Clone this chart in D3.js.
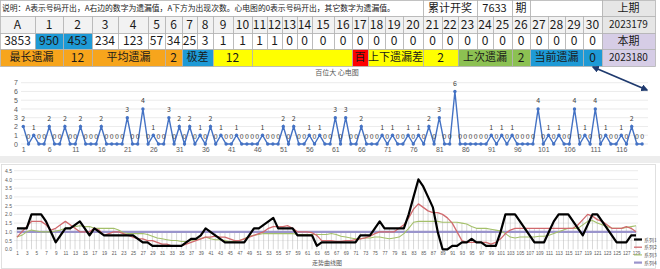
<!DOCTYPE html>
<html>
<head>
<meta charset="utf-8">
<style>
    body {
        margin: 0;
        background: #fff;
        font-family: "Noto Sans CJK SC", "Noto Sans", sans-serif;
    }
    svg { display: block; }
    .tick text { fill: #595959; }
</style>
</head>
<body>
<svg width="660" height="269"></svg>

<script src="https://d3js.org/d3.v7.min.js"></script>
<script>
    // ---- table data ----
    const descText = "说明：A表示号码开出，A右边的数字为遗漏值，A下方为出现次数。心电图的0表示号码开出，其它数字为遗漏值。"
    const totalLabel = "累计开奖"
    const totalDraws = 7633
    const prevLabel = "上期"
    const prevIssue = "2023179"
    const curLabel = "本期"
    const curIssue = "2023180"
    const numbers = ["A", "1", "2", "3", "4", "5", "6", "7", "8", "9", "10", "11", "12", "13", "14", "15",
        "16", "17", "18", "19", "20", "21", "22", "23", "24", "25", "26", "27", "28", "29", "30"]
    const counts = [3853, 950, 453, 234, 123, 57, 34, 25, 3, 1, 1, 1, 1, 0, 0, 0,
        0, 0, 0, 0, 0, 0, 0, 0, 0, 0, 0, 0, 0, 0, 0]
    const statLabels = ["最长遗漏", "平均遗漏", "极差", "上下遗漏差", "上次遗漏", "当前遗漏"]
    const statValues = [12, 2, 12, 2, 2, 0]
    const posLabel = "百"

    // ---- chart 1: 百位大 心电图 ----
    const ecgTitle = "百位大 心电图"
    const ecgValues = [2, 0, 1, 0, 0, 2, 0, 0, 2, 0, 0, 2, 0, 0, 0, 2, 0, 0, 0, 0,
        3, 0, 0, 4, 0, 1, 0, 0, 3, 0, 2, 0, 2, 0, 1, 0, 2, 0, 1, 0,
        0, 1, 0, 0, 0, 0, 1, 0, 0, 0, 2, 0, 2, 0, 0, 1, 0, 1, 0, 0,
        3, 0, 3, 0, 0, 2, 0, 0, 0, 1, 0, 1, 0, 0, 1, 0, 1, 0, 2, 0,
        3, 0, 0, 6, 0, 0, 0, 0, 0, 0, 1, 0, 1, 0, 1, 0, 0, 0, 0, 4,
        0, 1, 0, 1, 0, 0, 4, 0, 1, 0, 4, 0, 1, 0, 0, 1, 0, 2, 0, 0]

    // ---- chart 2: 走势曲线图 ----
    const trendTitle = "走势曲线图"
    const seriesNames = ["系列1", "系列2", "系列3", "系列4"]
    const series1 = [1.2, 1.2, 1.2, 2.0, 2.0, 2.0, 1.6, 1.0, 0.4, 0.8,
        1.2, 1.2, 1.4, 1.6, 1.2, 0.8, 1.2, 1.0, 0.8, 0.8,
        0.8, 0.8, 0.8, 0.8, 0.8, 0.6, 0.4, 0.4, 0.2, 0.2,
        0.2, 0.2, 0.2, 0.2, 0.2, 0.4, 0.6, 0.6, 0.8, 1.2,
        1.0, 0.8, 0.6, 0.4, 0.4, 0.4, 0.4, 0.4, 0.8, 1.2,
        1.2, 1.4, 1.6, 1.8, 1.2, 1.2, 1.2, 1.2, 0.8, 0.8,
        0.8, 0.8, 0.2, 0.4, 0.4, 0.4, 0.4, 0.4, 0.4, 0.4,
        0.4, 0.8, 0.8, 0.8, 1.2, 1.6, 1.2, 1.2, 1.2, 1.2,
        1.2, 2.0, 3.0, 4.0, 3.6, 3.0, 2.4, 1.0, 0, 0,
        0.2, 0.2, 0.4, 0.4, 0.6, 0.4, 0.4, 0.2, 0.2, 0.2,
        1.0, 2.0, 2.0, 2.0, 1.6, 1.2, 0.8, 0.4, 0.4, 0.4,
        1.0, 1.6, 2.0, 2.0, 2.0, 1.6, 1.2, 0.8, 1.4, 2.0,
        2.0, 1.6, 1.2, 0.8, 0.4, 0.4, 0.4, 0.8, 0.8]
    const series2 = [0.7, 1.0, 1.3, 1.6, 1.6, 1.6, 1.4, 1.1, 1.2, 1.4,
        1.6, 1.4, 1.2, 1.0, 1.0, 1.0, 1.2, 1.1, 0.8, 0.9,
        1.0, 1.0, 0.9, 0.8, 0.7, 0.6, 0.6, 0.5, 0.5, 0.4,
        0.3, 0.3, 0.2, 0.2, 0.2, 0.3, 0.4, 0.5, 0.6, 0.7,
        0.7, 0.75, 0.7, 0.7, 0.6, 0.5, 0.5, 0.6, 0.7, 0.8,
        0.9, 1.0, 1.2, 1.3, 1.3, 1.3, 1.35, 1.2, 1.0, 1.0,
        1.0, 0.95, 0.8, 0.5, 0.5, 0.5, 0.45, 0.45, 0.5, 0.5,
        0.55, 0.6, 0.65, 0.75, 0.9, 1.0, 1.0, 1.0, 1.0, 1.2,
        1.4, 1.8, 2.3, 2.6, 2.4, 2.2, 2.1, 2.1, 2.0, 1.8,
        1.5, 1.0, 0.5, 0.4, 0.4, 0.4, 0.4, 0.4, 0.3, 0.4,
        0.6, 0.9, 1.1, 1.2, 1.2, 1.2, 1.2, 1.2, 1.2, 1.2,
        1.2, 1.2, 1.2, 1.2, 1.2, 1.2, 1.4, 1.7, 2.0, 1.9,
        1.7, 1.6, 1.4, 1.2, 1.2, 1.2, 1.3, 1.2, 1.0]
    const series3 = [0.7, 0.8, 1.0, 1.1, 1.05, 1.0, 1.0, 1.0, 1.05, 1.1,
        1.2, 1.25, 1.3, 1.35, 1.3, 1.3, 1.2, 1.2, 1.2, 1.2,
        1.2, 1.1, 0.95, 0.9, 0.9, 0.9, 0.9, 0.85, 0.75, 0.65,
        0.6, 0.55, 0.5, 0.5, 0.45, 0.45, 0.5, 0.55, 0.6, 0.7,
        0.6, 0.55, 0.55, 0.5, 0.45, 0.45, 0.5, 0.6, 0.75, 0.8,
        0.85, 0.9, 0.9, 0.9, 0.9, 0.9, 0.9, 0.9, 0.85, 0.85,
        0.85, 0.85, 0.85, 0.85, 0.85, 0.9, 0.85, 0.75, 0.7, 0.65,
        0.6, 0.6, 0.65, 0.65, 0.7, 0.7, 0.65, 0.6, 0.65, 0.7,
        0.9, 1.2, 1.55, 1.6, 1.6, 1.6, 1.6, 1.6, 1.55, 1.55,
        1.55, 1.55, 1.5, 1.45, 1.3, 1.2, 1.2, 1.2, 1.15, 1.1,
        1.05, 0.9, 0.7, 0.65, 0.7, 0.7, 0.7, 0.7, 0.75, 0.75,
        0.8, 0.9, 1.0, 1.1, 1.2, 1.2, 1.2, 1.4, 1.6, 1.65,
        1.5, 1.4, 1.3, 1.2, 1.2, 1.2, 1.25, 1.3, 1.35]
    const series4 = [1, 1, 1, 1, 1, 1, 1, 1, 1, 1, 1, 1, 1, 1, 1, 1, 1, 1, 1, 1,
        1, 1, 1, 1, 1, 1, 1, 1, 1, 1, 1, 1, 1, 1, 1, 1, 1, 1, 1, 1,
        1, 1, 1, 1, 1, 1, 1, 1, 1, 1, 1, 1, 1, 1, 1, 1, 1, 1, 1, 1,
        1, 1, 1, 1, 1, 1, 1, 1, 1, 1, 1, 1, 1, 1, 1, 1, 1, 1, 1, 1,
        1, 1, 1, 1, 1, 1, 1, 1, 1, 1, 1, 1, 1, 1, 1, 1, 1, 1, 1, 1,
        1, 1, 1, 1, 1, 1, 1, 1, 1, 1, 1, 1, 1, 1, 1, 1, 1, 1, 1, 1,
        1, 1, 1, 1, 1, 1, 1, 1, 1]

    // ---------------------------------------------------------------
    let svg = d3.select("svg")

    // column / row edges of the spreadsheet grid
    let colX = [0, 35, 63, 92, 118, 148, 165, 182, 197, 213, 233, 252, 267, 282, 297, 312, 334,
        352, 368, 385, 403, 423, 442, 458, 477, 493, 512, 530, 548, 565, 583, 602, 655]
    let rowY = [0, 16, 33, 49, 66]

    let table = svg.append("g")

    function cell(c0, c1, r, fill, text, size, anchor) {
        let x0 = colX[c0], x1 = colX[c1 + 1]
        let y0 = rowY[r], y1 = rowY[r + 1]
        table.append("rect")
            .attr("x", x0 + 0.5).attr("y", y0 + 0.5)
            .attr("width", x1 - x0).attr("height", y1 - y0)
            .attr("fill", fill)
            .attr("stroke", "#b4b4b4")
            .attr("stroke-width", 0.8)
        if (text === "" || text == null) return
        table.append("text")
            .attr("x", anchor === "start" ? x0 + 2 : (x0 + x1) / 2)
            .attr("y", (y0 + y1) / 2 + 1)
            .attr("text-anchor", anchor || "middle")
            .attr("dominant-baseline", "middle")
            .style("font-size", size + "px")
            .style("fill", "#1a1a1a")
            .text(text)
    }

    // row 0
    cell(0, 20, 0, "#ffffff", descText, 7.8, "start")
    cell(21, 23, 0, "#ffffff", totalLabel, 11)
    cell(24, 25, 0, "#ffffff", totalDraws, 11)
    cell(26, 26, 0, "#ffffff", "期", 11)
    cell(27, 30, 0, "#ffffff", "")
    cell(31, 31, 0, "#e6e6e6", prevLabel, 11)

    // row 1: numbers
    numbers.forEach((n, i) => cell(i, i, 1, "#f2f2f2", n, 12))
    cell(31, 31, 1, "#e6e6e6", prevIssue, 10)

    // row 2: counts
    counts.forEach((c, i) => cell(i, i, 2, (i === 1 || i === 2) ? "#1e9ad6" : "#ffffff", c, 12))
    cell(31, 31, 2, "#d6cde6", curLabel, 11)

    // row 3: stats
    let orange = "#f7a51c", blue = "#1e9ad6", yellow = "#ffff00", green = "#8cc152"
    cell(0, 1, 3, orange, statLabels[0], 11)
    cell(2, 2, 3, orange, statValues[0], 12)
    cell(3, 5, 3, orange, statLabels[1], 11)
    cell(6, 6, 3, orange, statValues[1], 12)
    cell(7, 8, 3, blue, statLabels[2], 11)
    cell(9, 10, 3, yellow, statValues[2], 12)
    cell(11, 16, 3, yellow, "")
    cell(17, 17, 3, "#ff0000", posLabel, 11)
    cell(18, 20, 3, yellow, statLabels[3], 11)
    cell(21, 22, 3, yellow, statValues[3], 12)
    cell(23, 25, 3, green, statLabels[4], 11)
    cell(26, 26, 3, green, statValues[4], 12)
    cell(27, 29, 3, blue, statLabels[5], 11)
    cell(30, 30, 3, blue, statValues[5], 12)
    cell(31, 31, 3, "#d6cde6", curIssue, 10)

    // ---- chart 1 ----
    let c1 = svg.append("g")
    let x1 = d3.scaleLinear().domain([1, ecgValues.length]).range([23.3, 642.1])
    let y1 = d3.scaleLinear().domain([0, 7]).range([144, 82.7])

    c1.append("text")
        .attr("x", 337).attr("y", 75)
        .attr("text-anchor", "middle")
        .style("font-size", "7px").style("fill", "#595959")
        .text(ecgTitle)

    c1.append("g")
        .selectAll("line")
        .data(d3.range(0, 8))
        .join("line")
        .attr("x1", 21).attr("x2", 648)
        .attr("y1", d => y1(d)).attr("y2", d => y1(d))
        .attr("stroke", "#e3e3e3").attr("stroke-width", 0.7)

    let yAx1 = c1.append("g")
        .attr("transform", "translate(18,0)")
        .call(d3.axisLeft(y1).ticks(7).tickSize(0).tickPadding(0))
    yAx1.select(".domain").remove()
    yAx1.selectAll("text").style("font-size", "7px").style("font-family", "inherit")

    let xAx1 = c1.append("g")
        .attr("transform", "translate(0,147)")
        .call(d3.axisBottom(x1).tickValues(d3.range(1, ecgValues.length + 1, 5)).tickSize(0).tickPadding(0))
    xAx1.select(".domain").remove()
    xAx1.selectAll("text").style("font-size", "7px").style("font-family", "inherit")

    let ecgLine = d3.line().x((d, i) => x1(i + 1)).y(d => y1(d))
    c1.append("path")
        .datum(ecgValues)
        .attr("d", ecgLine)
        .attr("fill", "none")
        .attr("stroke", "#4472c4")
        .attr("stroke-width", 1.4)

    c1.selectAll(".dot")
        .data(ecgValues)
        .join("circle")
        .attr("class", "dot")
        .attr("cx", (d, i) => x1(i + 1))
        .attr("cy", d => y1(d))
        .attr("r", 1.7)
        .attr("fill", "#4472c4")

    c1.selectAll(".lbl")
        .data(ecgValues)
        .join("text")
        .attr("class", "lbl")
        .attr("x", (d, i) => x1(i + 1))
        .attr("y", d => y1(d) - 5.5)
        .attr("text-anchor", "middle")
        .style("font-size", "7px")
        .style("fill", "#404040")
        .text(d => d)

    // arrow
    let defs = svg.append("defs")
    defs.append("marker")
        .attr("id", "ah")
        .attr("viewBox", "0 0 10 10")
        .attr("refX", 8).attr("refY", 5)
        .attr("markerWidth", 4).attr("markerHeight", 4)
        .attr("orient", "auto-start-reverse")
        .append("path")
        .attr("d", "M0,0 L10,5 L0,10 z")
        .attr("fill", "#1f3a6e")
    svg.append("line")
        .attr("x1", 593).attr("y1", 67)
        .attr("x2", 647).attr("y2", 90)
        .attr("stroke", "#1f3a6e")
        .attr("stroke-width", 1.8)
        .attr("marker-start", "url(#ah)")
        .attr("marker-end", "url(#ah)")

    // separator between the charts
    svg.append("rect")
        .attr("x", 0).attr("y", 156).attr("width", 660).attr("height", 7)
        .attr("fill", "#ededed")

    // ---- chart 2 ----
    let c2 = svg.append("g")
    let n2 = series1.length
    let x2 = d3.scaleLinear().domain([1, n2]).range([17, 636])
    let y2 = d3.scaleLinear().domain([0, 4.5]).range([249.3, 170.7])

    c2.append("rect")
        .attr("x", 1.5).attr("y", 164.5).attr("width", 654).attr("height", 104)
        .attr("fill", "#fff").attr("stroke", "#d9d9d9").attr("stroke-width", 0.8)

    c2.append("g")
        .selectAll("line")
        .data(d3.range(0.5, 4.51, 0.5))
        .join("line")
        .attr("x1", 14).attr("x2", 638)
        .attr("y1", d => y2(d)).attr("y2", d => y2(d))
        .attr("stroke", "#e3e3e3").attr("stroke-width", 0.7)

    let yAx2 = c2.append("g")
        .attr("transform", "translate(12,0)")
        .call(d3.axisLeft(y2).tickValues(d3.range(0, 4.51, 0.5)).tickSize(0).tickPadding(0))
    yAx2.select(".domain").remove()
    yAx2.selectAll("text").style("font-size", "5px").style("font-family", "inherit")

    let xAx2 = c2.append("g")
        .attr("transform", "translate(0,252)")
        .call(d3.axisBottom(x2).tickValues(d3.range(1, n2 + 1, 2)).tickSize(0).tickPadding(0))
    xAx2.select(".domain").remove()
    xAx2.selectAll("text").style("font-size", "4.6px").style("font-family", "inherit")

    c2.append("text")
        .attr("x", 327).attr("y", 265)
        .attr("text-anchor", "middle")
        .style("font-size", "6px").style("fill", "#595959")
        .text(trendTitle)

    // drop lines
    let allSeries = [series1, series2, series3, series4]
    c2.append("g")
        .selectAll("line")
        .data(series1.map((d, i) => d3.max(allSeries, s => s[i])))
        .join("line")
        .attr("x1", (d, i) => x2(i + 1)).attr("x2", (d, i) => x2(i + 1))
        .attr("y1", y2(0)).attr("y2", d => y2(d))
        .attr("stroke", "#b0b0b0").attr("stroke-width", 0.5)

    let line2 = d3.line().x((d, i) => x2(i + 1)).y(d => y2(d))
    let seriesStyle = [
        { color: "#000000", width: 2.2 },
        { color: "#d16a6e", width: 1.3 },
        { color: "#a4c06a", width: 1.1 },
        { color: "#9a94cc", width: 2.2 }
    ]
    let drawOrder = [3, 2, 1, 0]
    drawOrder.forEach(k => {
        c2.append("path")
            .datum(allSeries[k])
            .attr("d", line2)
            .attr("fill", "none")
            .attr("stroke", seriesStyle[k].color)
            .attr("stroke-width", seriesStyle[k].width)
            .attr("stroke-linejoin", "round")
    })

    // legend, to the right of the plot
    let leg = c2.append("g")
    seriesNames.forEach((name, k) => {
        let ly = 239.5 + k * 7.7
        leg.append("line")
            .attr("x1", 634).attr("x2", 642)
            .attr("y1", ly).attr("y2", ly)
            .attr("stroke", seriesStyle[k].color)
            .attr("stroke-width", seriesStyle[k].width)
        leg.append("text")
            .attr("x", 644).attr("y", ly + 2)
            .style("font-size", "5px").style("fill", "#595959")
            .text(name)
    })
</script>
</body>
</html>
